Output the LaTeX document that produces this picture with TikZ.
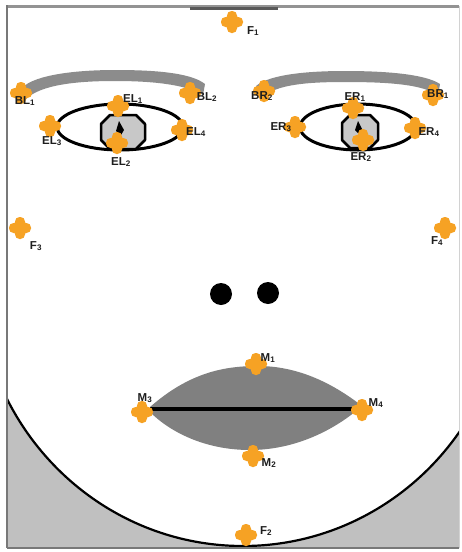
\documentclass[tikz,border=0pt]{standalone}
\usepackage{fontspec}
\setmainfont{Liberation Sans}
\begin{document}
\definecolor{lmkorange}{RGB}{246,162,36}
\definecolor{browgray}{RGB}{140,140,140}
\definecolor{lipgray}{RGB}{128,128,128}
\definecolor{irisgray}{RGB}{200,200,200}
\definecolor{chingray}{RGB}{192,192,192}
\definecolor{framegray}{RGB}{120,120,120}
\definecolor{labelink}{RGB}{30,30,30}
\begin{tikzpicture}[x=1pt,y=-1pt,
  lbl/.style={inner sep=0pt,text=labelink,font=\fontsize{11.5}{11.5}\selectfont\bfseries},
  eyeline/.style={draw=black,line width=3pt},
  iris/.style={fill=irisgray,draw=black,line width=2.5pt,line join=round}]
\useasboundingbox (0,0) rectangle (461,552);
\fill[white] (0,0) rectangle (461,552);

% chin region outside the face outline
\begin{scope}
  \clip (7,385) rectangle (459,548);
  \fill[chingray,even odd rule] (-40,-10) rectangle (520,580)
     (243,276) ellipse [x radius=265, y radius=270];
  \draw[black,line width=2.2pt] (243,276) ellipse [x radius=265, y radius=270];
\end{scope}

% frame
\draw[framegray!80,line width=3pt] (7,6) -- (459,6);
\draw[framegray,line width=2pt] (7,5) -- (7,548);
\draw[framegray,line width=2pt] (7,548) -- (459,548);
\draw[gray!35,line width=1pt] (459,6) -- (459,548);
\draw[black!65,line width=3pt] (190,8) -- (278,8);

% eyebrows
\fill[browgray] (22,88) .. controls (35,74) and (80,70) .. (115,70)
  .. controls (150,70) and (190,72) .. (205,84) -- (203,95)
  .. controls (185,84) and (150,81) .. (115,81)
  .. controls (80,81) and (40,84) .. (25,100) -- cycle;
\fill[browgray] (256,86) .. controls (270,74) and (310,71) .. (345,71)
  .. controls (385,71) and (425,74) .. (440,84) -- (438,96)
  .. controls (425,84) and (385,82) .. (345,82)
  .. controls (310,82) and (275,84) .. (262,98) -- cycle;

% eyes
\draw[eyeline] (120,127) ellipse [x radius=63, y radius=23];
\path[iris] (110,115) -- (136,115) -- (145,124) -- (145,140) -- (136,149)
  -- (110,149) -- (101,140) -- (101,124) -- cycle;
\fill[black] (119,121) -- (124,130) -- (121,135) -- (116,131) -- cycle;
\draw[eyeline] (358,127) ellipse [x radius=58, y radius=23];
\path[iris] (350,115) -- (370,115) -- (378,123) -- (378,140) -- (370,148)
  -- (350,148) -- (342,140) -- (342,123) -- cycle;
\fill[black] (358,121) -- (362,129) -- (359,134) -- (355,130) -- cycle;

% nostrils
\fill[black] (221,294) circle [radius=11];
\fill[black] (268,293) circle [radius=11];

% mouth
\fill[lipgray] (150,407) .. controls (190,372) and (225,366) .. (258,366)
  .. controls (300,366) and (335,385) .. (362,406)
  .. controls (335,430) and (295,450) .. (250,450)
  .. controls (205,450) and (170,432) .. (150,412) -- cycle;
\draw[black,line width=4pt] (150,409) -- (360,409);

% landmark markers
\tikzset{pics/landmark/.style={code={
  \fill[lmkorange,rounded corners=4.5pt] (-11,-5) rectangle (11,5);
  \fill[lmkorange,rounded corners=4.5pt] (-5,-11) rectangle (5,11);
  \fill[lmkorange] (0,0) circle [radius=7.5];}}}
\foreach \n/\p in {F1/{(232,22)},BL1/{(21,93)},BL2/{(190,93)},
  EL1/{(118,106)},EL3/{(50,126)},EL4/{(182,130)},EL2/{(117,143)},
  BR2/{(264,91)},BR1/{(433,95)},ER1/{(353,108)},ER3/{(295,127)},
  ER4/{(415,128)},ER2/{(363,140)},F3/{(20,228)},F4/{(445,228)},
  M1/{(256,364)},M3/{(142,412)},M4/{(362,410)},M2/{(253,456)},
  F2/{(246,535)}}
  \pic (mk\n) at \p {landmark};

% landmark labels
\node[lbl] (tF1) at (253,31) {F\textsubscript{1}};
\node[lbl] (tBL1) at (25,101) {BL\textsubscript{1}};
\node[lbl] (tBL2) at (207,97) {BL\textsubscript{2}};
\node[lbl] (tEL1) at (133,99) {EL\textsubscript{1}};
\node[lbl] (tEL3) at (52,141) {EL\textsubscript{3}};
\node[lbl] (tEL4) at (196,132) {EL\textsubscript{4}};
\node[lbl] (tEL2) at (121,162) {EL\textsubscript{2}};
\node[lbl] (tBR2) at (262,96) {BR\textsubscript{2}};
\node[lbl] (tBR1) at (438,94) {BR\textsubscript{1}};
\node[lbl] (tER1) at (355,97) {ER\textsubscript{1}};
\node[lbl] (tER3) at (281,127) {ER\textsubscript{3}};
\node[lbl] (tER4) at (429,132) {ER\textsubscript{4}};
\node[lbl] (tER2) at (361,157) {ER\textsubscript{2}};
\node[lbl] (tF3) at (36,246) {F\textsubscript{3}};
\node[lbl] (tF4) at (437,241) {F\textsubscript{4}};
\node[lbl] (tM1) at (268,358) {M\textsubscript{1}};
\node[lbl] (tM3) at (145,398) {M\textsubscript{3}};
\node[lbl] (tM4) at (376,403) {M\textsubscript{4}};
\node[lbl] (tM2) at (269,463) {M\textsubscript{2}};
\node[lbl] (tF2) at (266,531) {F\textsubscript{2}};
\end{tikzpicture}
\end{document}
